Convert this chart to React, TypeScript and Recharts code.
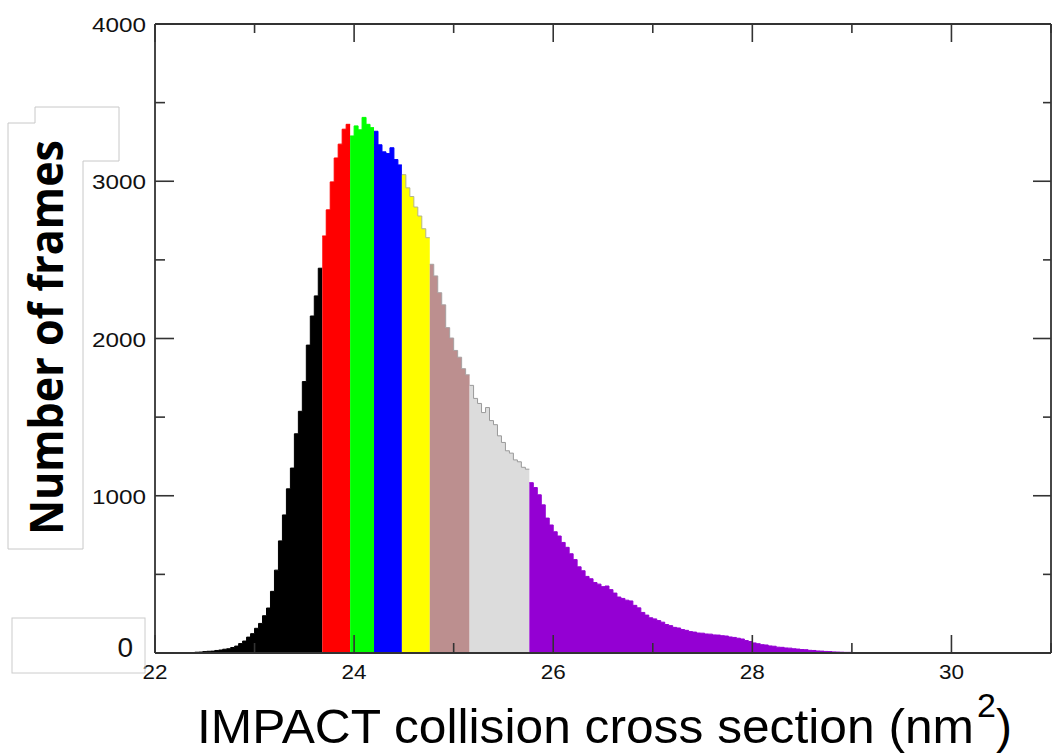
import React from "react";
import { ComposedChart, Area, XAxis, YAxis } from "recharts";

// Histogram of IMPACT collision cross sections, binned at 0.04 nm^2,
// coloured by consecutive groups of bins.
const BIN_START = 22.28;
const BIN_WIDTH = 0.04;

const blackCounts = [1, 2, 3, 5, 6, 9, 11, 12, 16, 19, 24, 27, 35, 44, 60, 76, 101, 123, 157, 188, 237, 286, 392, 527, 713, 878, 1044, 1176, 1394, 1537, 1726, 1958, 2143, 2271, 2447];
const redCounts = [2652, 2818, 2996, 3148, 3236, 3331, 3362];
const greenCounts = [3288, 3352, 3327, 3406, 3362, 3341];
const blueCounts = [3318, 3232, 3187, 3176, 3213, 3138, 3104];
const yellowCounts = [3042, 2958, 2903, 2836, 2779, 2698, 2641];
const brownCounts = [2472, 2398, 2291, 2214, 2069, 2003, 1924, 1881, 1808, 1769];
const greyCounts = [1702, 1619, 1587, 1529, 1561, 1478, 1452, 1381, 1339, 1286, 1271, 1228, 1216, 1181, 1169];
const violetCounts = [1083, 1052, 1006, 942, 858, 814, 771, 744, 703, 672, 631, 594, 548, 523, 487, 472, 448, 438, 422, 426, 403, 381, 356, 347, 336, 331, 303, 287, 258, 241, 224, 217, 206, 196, 181, 174, 163, 159, 149, 144, 136, 133, 127, 126, 121, 120, 115, 114, 110, 108, 102, 99, 94, 89, 79, 73, 64, 59, 53, 51, 45, 43, 37, 36, 32, 31, 27, 25, 22, 21, 17, 16, 13, 12, 10, 9, 7, 6, 5, 4, 4, 3, 3, 2, 2, 1, 1, 0, 0];

const xTicks = [22, 23, 24, 25, 26, 27, 28, 29, 30, 31];
const yTicks = [0, 500, 1000, 1500, 2000, 2500, 3000, 3500, 4000];

const X_TITLE = "IMPACT collision cross section (nm";
const Y_TITLE = "Number of frames";

const groups = [
  { key: "black", counts: blackCounts, fill: "#000000", stroke: "#000000" },
  { key: "red", counts: redCounts, fill: "#ff0000", stroke: "#ff0000" },
  { key: "green", counts: greenCounts, fill: "#00ff00", stroke: "#00ff00" },
  { key: "blue", counts: blueCounts, fill: "#0000ff", stroke: "#0000ff" },
  { key: "yellow", counts: yellowCounts, fill: "#ffff00", stroke: "#b4b48c" },
  { key: "brown", counts: brownCounts, fill: "#bc8f8f", stroke: "#a8a0a0" },
  { key: "grey", counts: greyCounts, fill: "#dcdcdc", stroke: "#9a9a9a" },
  { key: "violet", counts: violetCounts, fill: "#9400d3", stroke: "#9400d3" },
];

// One row per bin edge; each group holds its bins plus a closing edge.
const totalBins = groups.reduce((n, g) => n + g.counts.length, 0);
const rows: Record<string, number | null>[] = [];
for (let i = 0; i <= totalBins; i++) {
  rows.push({ x: Math.round((BIN_START + i * BIN_WIDTH) * 10000) / 10000 });
}
{
  let offset = 0;
  groups.forEach((g) => {
    g.counts.forEach((c, j) => {
      rows[offset + j][g.key] = c;
    });
    rows[offset + g.counts.length][g.key] = g.counts[g.counts.length - 1];
    offset += g.counts.length;
  });
}

const FONT = "'Liberation Sans', Arial, Helvetica, sans-serif";
const AXIS_COLOR = "#333333";

const BottomTick = (props: any) => {
  const { x, y, payload } = props;
  const v = payload.value as number;
  const major = v % 2 === 0;
  return (
    <g>
      <line x1={x} y1={y} x2={x} y2={y - (major ? 18 : 10)} stroke={AXIS_COLOR} strokeWidth={1.6} />
      {major && v !== 31 && (
        <text x={x} y={y + 26} textAnchor="middle" fontSize={19.5} fontFamily={FONT} fill="#111" textLength={25} lengthAdjust="spacingAndGlyphs">
          {v}
        </text>
      )}
    </g>
  );
};

const TopTick = (props: any) => {
  const { x, y, payload } = props;
  const major = (payload.value as number) % 2 === 0;
  return <line x1={x} y1={y} x2={x} y2={y + (major ? 18 : 9)} stroke={AXIS_COLOR} strokeWidth={1.6} />;
};

const LeftTick = (props: any) => {
  const { x, y, payload } = props;
  const v = payload.value as number;
  const major = v % 1000 === 0;
  return (
    <g>
      <line x1={x} y1={y} x2={x + (major ? 19 : 10)} y2={y} stroke={AXIS_COLOR} strokeWidth={1.6} />
      {major && v !== 0 && (
        <text x={x - 9} y={y + 8} textAnchor="end" fontSize={19.5} fontFamily={FONT} fill="#111" textLength={54} lengthAdjust="spacingAndGlyphs">
          {v}
        </text>
      )}
      {v === 0 && (
        <text x={x - 22} y={y + 4} textAnchor="end" fontSize={28} fontFamily={FONT} fill="#111">
          {v}
        </text>
      )}
    </g>
  );
};

const RightTick = (props: any) => {
  const { x, y, payload } = props;
  const major = (payload.value as number) % 1000 === 0;
  return <line x1={x} y1={y} x2={x - (major ? 18 : 8)} y2={y} stroke={AXIS_COLOR} strokeWidth={1.6} />;
};

export default function App() {
  const axisLine = { stroke: AXIS_COLOR, strokeWidth: 1.8 };
  return (
    <div style={{ position: "absolute", left: 0, top: 0, width: 1053, height: 753, background: "#fff" }}>
      <ComposedChart width={1053} height={753} data={rows} margin={{ top: 14, right: 0, bottom: 60, left: 95 }}>
        <XAxis dataKey="x" type="number" domain={[22, 31]} ticks={xTicks} interval={0} allowDataOverflow height={40} tickSize={0} tickMargin={0} tickLine={false} axisLine={axisLine} tick={<BottomTick />} />
        <XAxis xAxisId="top" orientation="top" dataKey="x" type="number" domain={[22, 31]} ticks={xTicks} interval={0} allowDataOverflow height={10} tickSize={0} tickMargin={0} tickLine={false} axisLine={axisLine} tick={<TopTick />} />
        <YAxis type="number" domain={[0, 4000]} ticks={yTicks} interval={0} allowDataOverflow width={60} tickSize={0} tickMargin={0} tickLine={false} axisLine={axisLine} tick={<LeftTick />} />
        <YAxis yAxisId="right" orientation="right" type="number" domain={[0, 4000]} ticks={yTicks} interval={0} allowDataOverflow width={2} tickSize={0} tickMargin={0} tickLine={false} axisLine={axisLine} tick={<RightTick />} />
        {groups.map((g) => (
          <Area
            key={g.key}
            type="stepAfter"
            dataKey={g.key}
            fill={g.fill}
            fillOpacity={1}
            stroke={g.stroke}
            strokeWidth={1}
            dot={false}
            activeDot={false}
            connectNulls={false}
            isAnimationActive={false}
          />
        ))}
      </ComposedChart>
      <svg width={1053} height={753} style={{ position: "absolute", left: 0, top: 0, pointerEvents: "none" }}>
        <polygon points="8,123 35,123 35,107 119,107 119,161 83,161 83,549 8,549" fill="none" stroke="#c8c8c8" strokeWidth={1} />
        <rect x={12} y={618} width={133} height={55} fill="none" stroke="#cccccc" strokeWidth={1} />
        <text transform="translate(63,337.5) rotate(-90)" textAnchor="middle" fontSize={46} fontWeight={700} fontFamily="'Open Sans', 'Liberation Sans', sans-serif" fill="#000" textLength={395} lengthAdjust="spacingAndGlyphs">
          {Y_TITLE}
        </text>
        <text x={197} y={743} fontSize={48} fontFamily={FONT} fill="#000" textLength={777} lengthAdjust="spacingAndGlyphs">
          {X_TITLE}
        </text>
        <text x={977} y={717} fontSize={34} fontFamily={FONT} fill="#000">
          2
        </text>
        <text x={996} y={743} fontSize={48} fontFamily={FONT} fill="#000">
          )
        </text>
      </svg>
    </div>
  );
}
